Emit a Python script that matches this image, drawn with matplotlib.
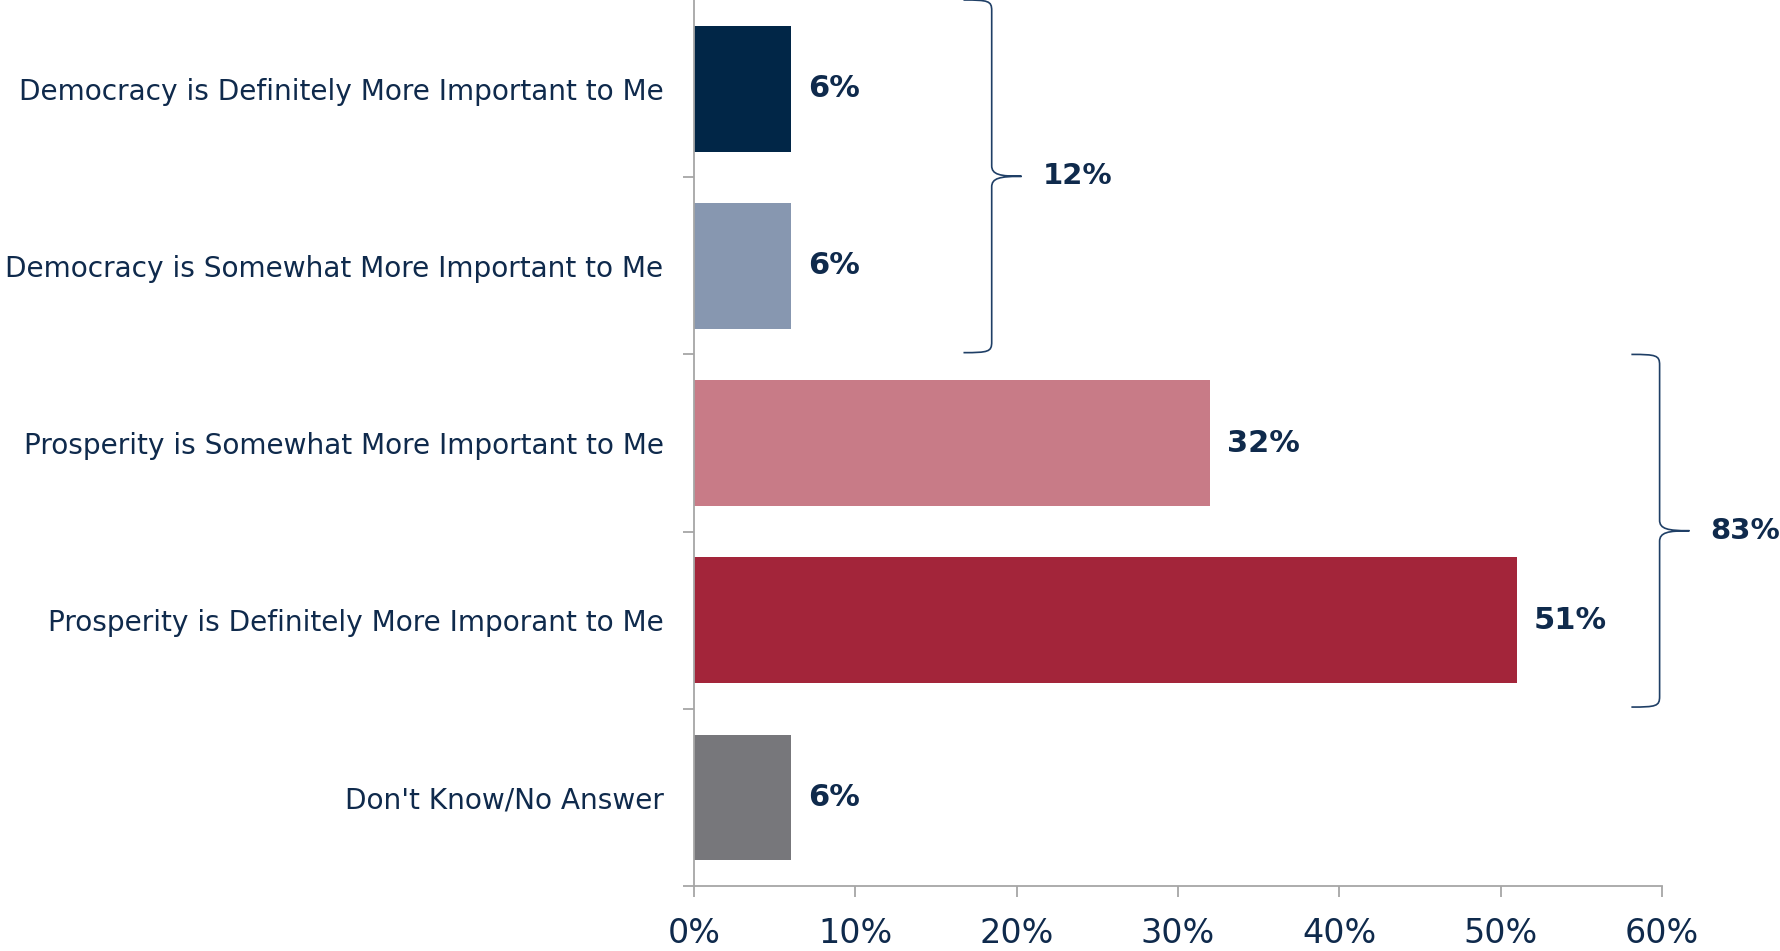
import matplotlib
matplotlib.use("Agg")
import matplotlib.pyplot as plt
from matplotlib.path import Path
from matplotlib.patches import PathPatch

# Дані
categories = [
    "Democracy is Definitely More Important to Me",
    "Democracy is Somewhat More Important to Me",
    "Prosperity is Somewhat More Important to Me",
    "Prosperity is Definitely More Imporant to Me",
    "Don't Know/No Answer",
]
values = [6, 6, 32, 51, 6]
bar_colors = ["#012647", "#8797B0", "#C87B87", "#A3253A", "#77777B"]
x_ticks = [0, 10, 20, 30, 40, 50, 60]
x_tick_labels = ["0%", "10%", "20%", "30%", "40%", "50%", "60%"]

# Групи для фігурних дужок: (перший індекс, останній індекс, підпис)
groups = [(0, 1, "12%"), (2, 3, "83%")]
brace_x = [18.45, 59.85]

TEXT = "#0F2A4C"
SPINE = "#A6A6A6"


def draw_brace(ax, x, y0, y1, label):
    # Фігурна дужка, що відкривається вліво
    hook = 1.75
    tip = 1.85
    ym = (y0 + y1) / 2
    c = 0.06
    verts = [
        (x - hook, y0), (x - 0.2, y0), (x, y0 + 0.005), (x, y0 + c),
        (x, ym - c),
        (x, ym - 0.01), (x + 0.5, ym), (x + tip, ym),
        (x + 0.5, ym), (x, ym + 0.01), (x, ym + c),
        (x, y1 - c),
        (x, y1 - 0.005), (x - 0.2, y1), (x - hook, y1),
    ]
    codes = [Path.MOVETO, Path.CURVE4, Path.CURVE4, Path.CURVE4,
             Path.LINETO,
             Path.CURVE4, Path.CURVE4, Path.CURVE4,
             Path.CURVE4, Path.CURVE4, Path.CURVE4,
             Path.LINETO,
             Path.CURVE4, Path.CURVE4, Path.CURVE4]
    patch = PathPatch(Path(verts, codes), fill=False, edgecolor="#1F3F66",
                      lw=1.2, clip_on=False)
    ax.add_patch(patch)
    ax.text(x + tip + 1.3, ym, label, ha="left", va="center", fontsize=21,
            fontweight="bold", color=TEXT, clip_on=False)


fig = plt.figure(figsize=(17.81, 9.51), dpi=100)
ax = fig.add_axes([0.3897, 0.0683, 0.5435, 0.9317])

pos = list(range(len(categories)))
ax.barh(pos, values, height=0.71, color=bar_colors)

for p, v in zip(pos, values):
    ax.text(v + 1.05, p, f"{v}%", ha="left", va="center", fontsize=22,
            fontweight="bold", color=TEXT)

for (a, b, label), bx in zip(groups, brace_x):
    draw_brace(ax, bx, a - 0.5, b + 0.49, label)

ax.set_xlim(0, 60)
ax.set_ylim(4.5, -0.5)

ax.set_xticks(x_ticks)
ax.set_xticklabels(x_tick_labels, fontsize=24, color=TEXT)
ax.set_yticks(pos)
ax.set_yticklabels(categories, fontsize=20.2, color=TEXT)
ax.set_yticks([p + 0.5 for p in pos], minor=True)
ax.tick_params(axis="y", which="major", length=0, pad=22)
ax.tick_params(axis="y", which="minor", length=8, color=SPINE, width=1.3)
ax.tick_params(axis="x", length=8, color=SPINE, width=1.3, pad=14)

for side in ["top", "right"]:
    ax.spines[side].set_visible(False)
for side in ["left", "bottom"]:
    ax.spines[side].set_color(SPINE)
    ax.spines[side].set_linewidth(1.3)

fig.savefig("out.png", dpi=100)
